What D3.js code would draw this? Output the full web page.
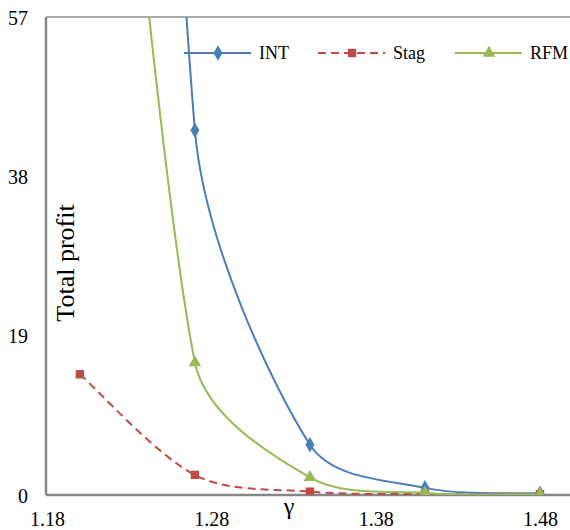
<!DOCTYPE html>
<html>
<head>
<meta charset="utf-8">
<script src="https://cdn.jsdelivr.net/npm/d3@7"></script>
<style>
  body { margin: 0; background: #fff; }
  svg text { font-family: "Times New Roman", "Liberation Serif", "DejaVu Serif", serif; fill: #000; }
</style>
</head>
<body>
<div id="chart"></div>
<script>
// profit vs gamma, three schemes

const gammas = [1.2, 1.27, 1.34, 1.41, 1.48];
const intProfit = [335, 43.5, 6.0, 0.85, 0.2];
const stagProfit = [14.4, 2.4, 0.4, 0.1, 0.1];
const rfmProfit = [140, 15.8, 2.1, 0.25, 0.1];
const xTicks = [1.18, 1.28, 1.38, 1.48];
const yTicks = [0, 19, 38, 57];

const W = 570, H = 530;
const plotLeft = 46, plotTop = 17, plotBottom = 495;
const serif = '"Times New Roman", "Liberation Serif", "DejaVu Serif", serif';

// excel-ish smoothing: catmull-rom tangents, control arms capped by segment length
function ExcelSmooth(context) { this._context = context; }
ExcelSmooth.prototype = {
    areaStart() {}, areaEnd() {},
    lineStart() { this._pts = []; },
    point(px, py) { this._pts.push([+px, +py]); },
    lineEnd() {
        let p = this._pts, n = p.length, ctx = this._context;
        if (!n) return;
        ctx.moveTo(p[0][0], p[0][1]);
        let tan = p.map((d, i) => {
            let a = p[Math.max(0, i - 1)], b = p[Math.min(n - 1, i + 1)];
            return [(b[0] - a[0]) / 6, (b[1] - a[1]) / 6];
        });
        for (let i = 0; i < n - 1; i++) {
            let a = p[i], b = p[i + 1];
            let lim = Math.hypot(b[0] - a[0], b[1] - a[1]) / 3;
            let s1 = Math.min(1, lim / (Math.hypot(tan[i][0], tan[i][1]) || 1));
            let s2 = Math.min(1, lim / (Math.hypot(tan[i + 1][0], tan[i + 1][1]) || 1));
            ctx.bezierCurveTo(
                a[0] + tan[i][0] * s1, a[1] + tan[i][1] * s1,
                b[0] - tan[i + 1][0] * s2, b[1] - tan[i + 1][1] * s2,
                b[0], b[1]);
        }
    }
};
const excelCurve = (context) => new ExcelSmooth(context);

let svg = d3.select("#chart").append("svg")
    .attr("width", W)
    .attr("height", H);

let x = d3.scaleLinear()
    .domain([1.18, 1.48])
    .range([47, 540]);

let y = d3.scaleLinear()
    .domain([0, 57])
    .range([plotBottom, plotTop]);

svg.append("defs").append("clipPath")
    .attr("id", "plot")
    .append("rect")
    .attr("x", plotLeft)
    .attr("y", plotTop)
    .attr("width", W - plotLeft)
    .attr("height", plotBottom - plotTop);

// frame
svg.append("line")
    .attr("x1", plotLeft).attr("x2", W)
    .attr("y1", plotTop).attr("y2", plotTop)
    .attr("stroke", "#555").attr("stroke-width", 1);

let xAxis = d3.axisBottom(x).tickValues(xTicks).tickSize(0).tickPadding(17).tickFormat(d3.format(".2f"));
let yAxis = d3.axisLeft(y).tickValues(yTicks).tickSize(0).tickPadding(18).tickFormat(d3.format("d"));

let gx = svg.append("g")
    .attr("transform", "translate(0," + plotBottom + ")")
    .call(xAxis);
gx.select(".domain").remove();
gx.append("line")
    .attr("x1", plotLeft).attr("x2", W)
    .attr("stroke", "#868686").attr("stroke-width", 2.5);

let gy = svg.append("g")
    .attr("transform", "translate(" + plotLeft + ",0)")
    .call(yAxis);
gy.select(".domain").remove();
gy.append("line")
    .attr("y1", plotTop).attr("y2", plotBottom)
    .attr("stroke", "#868686").attr("stroke-width", 2.5);

gx.attr("font-family", serif).attr("font-size", 20);
gy.attr("font-family", serif).attr("font-size", 20);
gy.selectAll(".tick text").attr("dy", "0.35em");

svg.append("text")
    .attr("transform", "translate(74,263) rotate(-90)")
    .attr("text-anchor", "middle")
    .attr("font-family", serif)
    .attr("font-size", 26)
    .text("Total profit");

svg.append("text")
    .attr("x", 289)
    .attr("y", 514)
    .attr("text-anchor", "middle")
    .attr("font-family", serif)
    .attr("font-size", 24)
    .text("γ");

const series = [
    { name: "INT", values: intProfit, color: "#4A7EBB", dash: null, symbol: d3.symbolDiamond, size: 70 },
    { name: "Stag", values: stagProfit, color: "#BE4B48", dash: "8,5", symbol: d3.symbolSquare, size: 70 },
    { name: "RFM", values: rfmProfit, color: "#98B954", dash: null, symbol: d3.symbolTriangle, size: 70 }
];

let line = d3.line()
    .x((d) => x(d[0]))
    .y((d) => y(d[1]))
    .curve(excelCurve);

let plot = svg.append("g").attr("clip-path", "url(#plot)");

series.forEach((s) => {
    let pts = gammas.map((g, i) => [g, s.values[i]]);
    plot.append("path")
        .datum(pts)
        .attr("fill", "none")
        .attr("stroke", s.color)
        .attr("stroke-width", 2)
        .attr("stroke-dasharray", s.dash)
        .attr("d", line);
});

series.forEach((s) => {
    let pts = gammas.map((g, i) => [g, s.values[i]]);
    plot.selectAll(null)
        .data(pts)
        .enter()
        .append("path")
        .attr("transform", (d) => "translate(" + x(d[0]) + "," + y(d[1]) + ")")
        .attr("d", d3.symbol().type(s.symbol).size(s.size))
        .attr("fill", s.color);
});

// legend
const legendX = [184, 318, 455];
let legend = svg.append("g");
series.forEach((s, i) => {
    let g = legend.append("g").attr("transform", "translate(" + legendX[i] + ",53)");
    g.append("line")
        .attr("x1", 0).attr("x2", 67)
        .attr("stroke", s.color)
        .attr("stroke-width", 2)
        .attr("stroke-dasharray", s.dash);
    g.append("path")
        .attr("transform", "translate(34,0)")
        .attr("d", d3.symbol().type(s.symbol).size(s.size))
        .attr("fill", s.color);
    g.append("text")
        .attr("x", 75)
        .attr("dy", "0.35em")
        .attr("font-family", serif)
        .attr("font-size", 18)
        .text(s.name);
});
</script>
</body>
</html>
